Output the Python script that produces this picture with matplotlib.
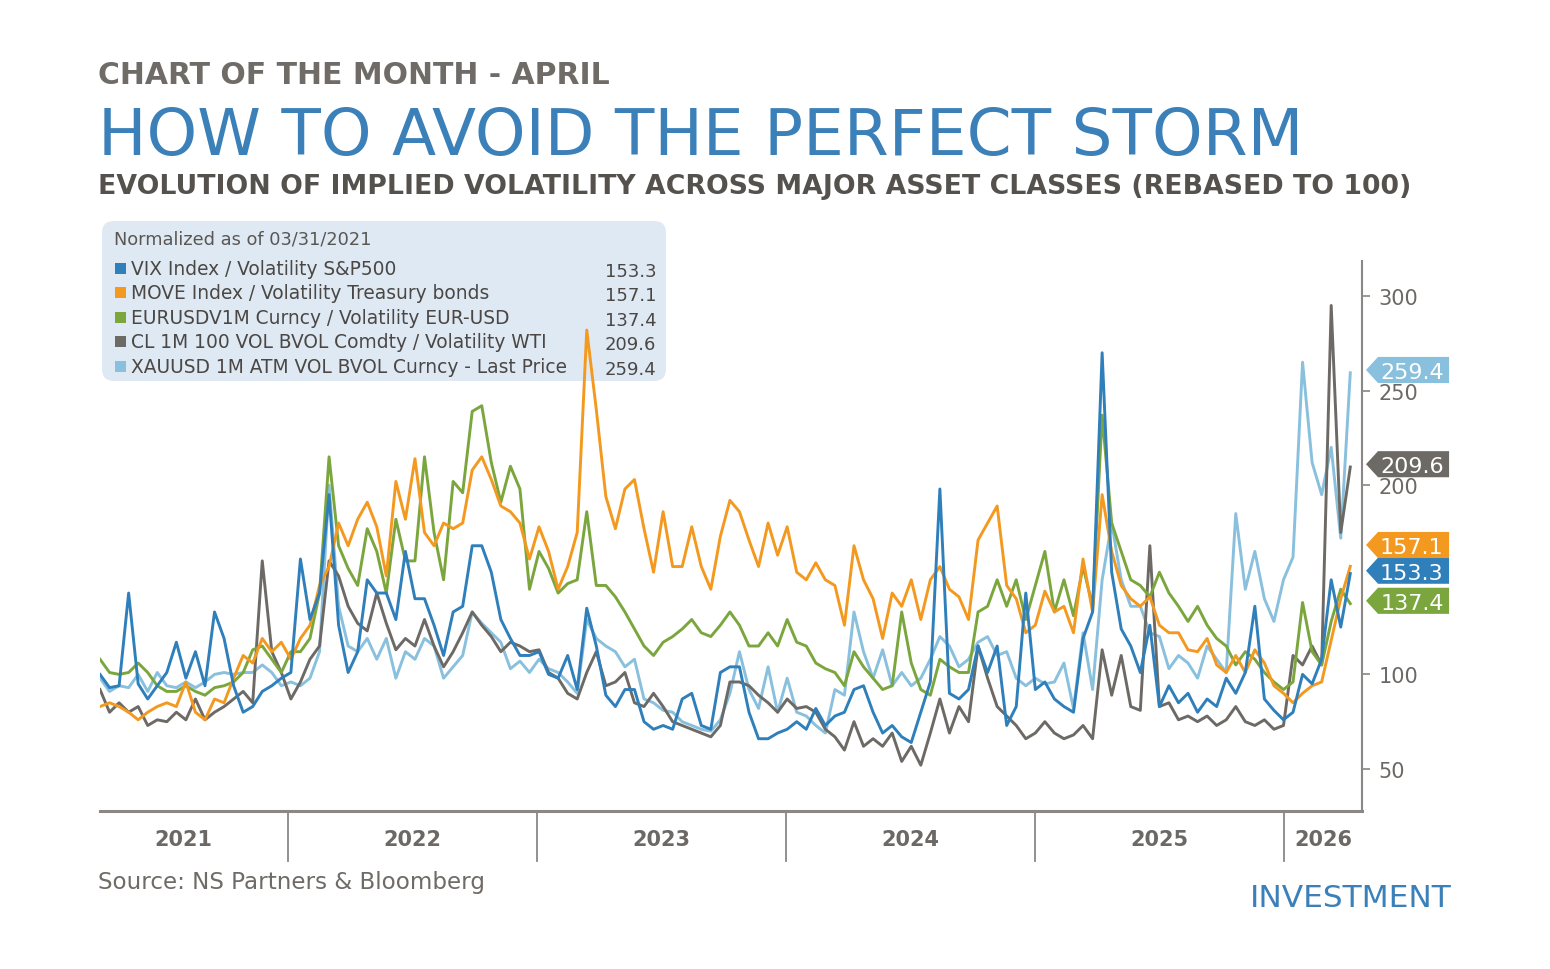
import numpy as np
import pandas as pd
import matplotlib
matplotlib.use("Agg")
import matplotlib.pyplot as plt
import matplotlib.dates as mdates
from matplotlib.patches import FancyBboxPatch, Rectangle, Polygon
from matplotlib.transforms import blended_transform_factory

# --- data (rebased to 100 on 03/31/2021, every two weeks) ---
START = "2021-03-31"
STEP_DAYS = 14

vix = [100, 93, 94, 143, 95, 87, 94, 101, 117, 98,
       112, 94, 133, 119, 94, 80, 83, 91, 94, 98,
       101, 161, 129, 143, 195, 126, 101, 112, 150, 143,
       143, 129, 165, 140, 140, 126, 110, 133, 136, 168,
       168, 154, 129, 119, 110, 110, 112, 100, 98, 110,
       92, 135, 115, 89, 83, 92, 92, 75, 71, 73,
       71, 87, 90, 73, 71, 101, 104, 104, 80, 66,
       66, 69, 71, 75, 71, 82, 73, 78, 80, 92,
       94, 80, 69, 73, 67, 64, 80, 96, 198, 90,
       87, 92, 115, 101, 115, 73, 83, 143, 92, 96,
       87, 83, 80, 119, 133, 270, 154, 124, 115, 101,
       126, 83, 94, 85, 90, 80, 87, 83, 98, 90,
       101, 136, 87, 81, 76, 80, 100, 95, 108, 150,
       125, 153.3]

move = [83, 85, 83, 80, 76, 80, 83, 85, 83, 96,
        80, 76, 87, 85, 98, 110, 106, 119, 112, 117,
        108, 119, 126, 147, 157, 180, 168, 182, 191, 178,
        152, 202, 182, 214, 175, 168, 180, 177, 180, 208,
        215, 203, 189, 186, 180, 161, 178, 165, 145, 157,
        175, 282, 240, 194, 177, 198, 203, 177, 154, 186,
        157, 157, 178, 157, 145, 173, 192, 186, 171, 157,
        180, 163, 178, 154, 150, 159, 150, 147, 126, 168,
        150, 140, 119, 143, 136, 150, 129, 150, 157, 145,
        141, 129, 171, 180, 189, 147, 140, 122, 126, 144,
        133, 136, 122, 161, 133, 195, 165, 147, 140, 136,
        141, 126, 122, 122, 113, 112, 119, 105, 101, 110,
        101, 113, 106, 94, 90, 85, 90, 94, 96, 118,
        140, 157.1]

eurusd = [108, 101, 100, 101, 106, 101, 94, 91, 91, 94,
          91, 89, 93, 94, 96, 101, 113, 115, 108, 101,
          112, 112, 119, 143, 215, 168, 156, 147, 177, 165,
          143, 182, 160, 160, 215, 175, 150, 202, 196, 239,
          242, 212, 191, 210, 198, 145, 165, 156, 143, 148,
          150, 186, 147, 147, 141, 133, 124, 115, 110, 117,
          120, 124, 129, 122, 120, 126, 133, 126, 115, 115,
          122, 115, 129, 117, 115, 106, 103, 101, 94, 112,
          104, 98, 92, 94, 133, 106, 92, 89, 108, 104,
          101, 101, 133, 136, 150, 136, 150, 129, 147, 165,
          133, 150, 131, 157, 136, 237, 180, 165, 150, 147,
          141, 154, 143, 136, 128, 136, 126, 119, 115, 105,
          112, 108, 101, 96, 92, 96, 138, 112, 105, 128,
          145, 137.4]

wti = [92, 80, 85, 80, 83, 73, 76, 75, 80, 76,
       87, 76, 80, 83, 87, 91, 85, 160, 112, 101,
       87, 96, 108, 115, 160, 152, 136, 127, 123, 143,
       127, 113, 119, 115, 129, 115, 104, 112, 122, 133,
       126, 120, 112, 117, 115, 112, 113, 101, 98, 90,
       87, 101, 112, 94, 96, 101, 85, 83, 90, 83,
       75, 73, 71, 69, 67, 73, 96, 96, 94, 89,
       85, 80, 87, 82, 83, 80, 71, 67, 60, 75,
       62, 66, 62, 69, 54, 62, 52, 69, 87, 69,
       83, 75, 115, 98, 83, 78, 73, 66, 69, 75,
       69, 66, 68, 73, 66, 113, 89, 110, 83, 81,
       168, 83, 85, 76, 78, 75, 78, 73, 76, 83,
       75, 73, 76, 71, 73, 110, 105, 115, 105, 295,
       175, 209.6]

gold = [98, 91, 94, 93, 100, 91, 101, 94, 93, 96,
        93, 96, 100, 101, 100, 101, 101, 105, 101, 94,
        96, 94, 98, 112, 200, 136, 115, 112, 119, 108,
        119, 98, 112, 108, 119, 115, 98, 104, 110, 133,
        127, 122, 117, 103, 107, 101, 108, 103, 101, 96,
        90, 129, 119, 115, 112, 104, 108, 87, 85, 81,
        80, 75, 73, 71, 70, 76, 90, 112, 92, 82,
        104, 80, 98, 80, 78, 73, 69, 92, 89, 133,
        112, 98, 113, 94, 101, 94, 98, 108, 120, 115,
        104, 108, 117, 120, 110, 112, 98, 94, 98, 95,
        96, 106, 82, 122, 92, 150, 180, 150, 136, 136,
        122, 120, 103, 110, 106, 98, 115, 108, 101, 185,
        145, 165, 140, 128, 150, 162, 265, 212, 195, 220,
        172, 259.4]

labels = ["VIX Index / Volatility S&P500",
          "MOVE Index / Volatility Treasury bonds",
          "EURUSDV1M Curncy / Volatility EUR-USD",
          "CL 1M 100 VOL BVOL Comdty / Volatility WTI",
          "XAUUSD 1M ATM VOL BVOL Curncy - Last Price"]
years = [2021, 2022, 2023, 2024, 2025, 2026]
yticks = [50, 100, 200, 250, 300]

# --- style ---
W, H = 1550, 970
BLUE = "#2f7fbb"
ORANGE = "#f4991f"
GREEN = "#7ba63d"
GRAY = "#6d6a66"
LIGHT = "#89c0dd"
TITLE_BLUE = "#3b80b8"
TEXT_GRAY = "#6f6b67"
AXIS_GRAY = "#8a8784"

series = [vix, move, eurusd, wti, gold]
colors = [BLUE, ORANGE, GREEN, GRAY, LIGHT]
draw_order = [4, 3, 2, 1, 0]

plt.rcParams["font.family"] = ["DejaVu Sans"]

fig = plt.figure(figsize=(W / 100, H / 100), dpi=100)
fig.patch.set_facecolor("white")
renderer = fig.canvas.get_renderer()


def px(x, y):
    """Pixel (from top-left) to figure fraction."""
    return x / W, 1 - y / H


def fit_text(s, x0, x1, base, size, color, weight="normal"):
    """Place s with its left edge at x0 and scale the font so it ends at x1."""
    t = fig.text(*px(x0, base), s, fontsize=size, color=color,
                 fontweight=weight, ha="left", va="baseline")
    w = t.get_window_extent(renderer).width
    t.set_fontsize(size * (x1 - x0) / w)
    return t


# --- headings ---
fit_text("CHART OF THE MONTH - APRIL", 98, 610, 84, 18, TEXT_GRAY, "bold")
fit_text("HOW TO AVOID THE PERFECT STORM", 98, 1300, 155, 46, TITLE_BLUE)
fit_text("EVOLUTION OF IMPLIED VOLATILITY ACROSS MAJOR ASSET CLASSES (REBASED TO 100)",
         98, 1410, 194, 16, "#55524e", "bold")
fit_text("Source: NS Partners & Bloomberg", 98, 483, 889, 13, TEXT_GRAY)
fit_text("INVESTMENT", 1250, 1452, 907, 20, TITLE_BLUE)

# --- plot area ---
ax = fig.add_axes([100 / W, 1 - 812 / H, 1262 / W, 550 / H])
ax.patch.set_alpha(0)

dates = pd.date_range(START, periods=len(vix), freq=f"{STEP_DAYS}D")
x = mdates.date2num(dates.to_numpy())
x_left = x[0]
x_right = x_left + 1262 / (249 / 365.25)

for k in draw_order:
    ax.plot(x, series[k], color=colors[k], lw=2.1, solid_joinstyle="round",
            zorder=2 + (4 - k) * 0.1)

ax.set_xlim(x_left, x_right)
ax.set_ylim(27.8, 318.5)

for side in ["left", "top"]:
    ax.spines[side].set_visible(False)
ax.spines["right"].set_color(AXIS_GRAY)
ax.spines["right"].set_linewidth(1.5)
ax.spines["bottom"].set_color(AXIS_GRAY)
ax.spines["bottom"].set_linewidth(2.2)

ax.set_xticks([])
ax.yaxis.tick_right()
ax.set_yticks(yticks)
ax.tick_params(axis="y", direction="out", length=6, width=1.2, colors=AXIS_GRAY,
               labelcolor="#6b6865", labelsize=15, pad=6)

# year separators and labels below the axis
xa = blended_transform_factory(ax.transData, ax.transAxes)
bounds = [x_left] + [mdates.date2num(pd.Timestamp(f"{y}-01-01")) for y in years[1:]] + [x_right]
for b in bounds[1:-1]:
    ax.plot([b, b], [0, -50 / 550], transform=xa, color=AXIS_GRAY, lw=1.3,
            clip_on=False)
for y, a, b in zip(years, bounds[:-1], bounds[1:]):
    xc = (a + b) / 2
    if y == years[0]:
        xc -= 15
    ax.text(xc, -28 / 550, str(y), transform=xa, ha="center",
            va="center", fontsize=15, fontweight="bold", color="#6b6865")

# value tags on the right axis, pushed apart when they collide
ta = blended_transform_factory(ax.transAxes, ax.transData)
half = 6.9
gap = 13.6
finals = [s[-1] for s in series]
order = np.argsort(finals)
tag_y = {}
last = -1e9
for k in order:
    yv = max(finals[k] + 1.5, last + gap)
    tag_y[k] = yv
    last = yv
for k, yv in tag_y.items():
    poly = Polygon([(1.0032, yv), (1.0127, yv + half), (1.0690, yv + half),
                    (1.0690, yv - half), (1.0127, yv - half)],
                   closed=True, transform=ta, facecolor=colors[k],
                   edgecolor="none", clip_on=False, zorder=10)
    ax.add_patch(poly)
    ax.text(1.0395, yv, f"{finals[k]:.1f}", transform=ta, ha="center",
            va="center_baseline", fontsize=16, color="white", zorder=11,
            clip_on=False)

# --- legend box (sits behind the lines) ---
box = FancyBboxPatch((1.02, (H - 382) / 100), 5.64, 1.60,
                     boxstyle="round,pad=0,rounding_size=0.12",
                     transform=fig.dpi_scale_trans, facecolor="#dfe9f3",
                     edgecolor="none", zorder=-1)
fig.add_artist(box)
fig.text(*px(114, 245), "Normalized as of 03/31/2021", fontsize=12.8,
         color="#5a5753", va="baseline", zorder=5)
for i, (lab, col, s) in enumerate(zip(labels, colors, series)):
    base = 275 + i * 24.4
    sq = Rectangle((1.15, (H - base) / 100), 0.11, 0.11,
                   transform=fig.dpi_scale_trans, facecolor=col,
                   edgecolor="none", zorder=5)
    fig.add_artist(sq)
    fig.text(*px(131, base), lab, fontsize=13.4, color="#4a4744",
             va="baseline", zorder=5)
    fig.text(*px(605, base + 2), f"{s[-1]:.1f}", fontsize=13,
             color="#4a4744", va="baseline", zorder=5)

fig.savefig("out.png", dpi=100, facecolor="white")
